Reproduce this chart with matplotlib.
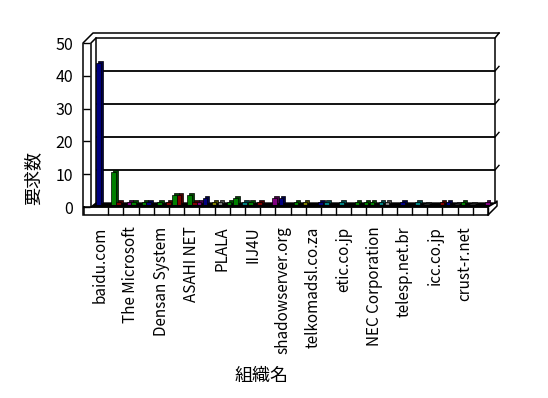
import numpy as np
import matplotlib
matplotlib.use("Agg")
import matplotlib.pyplot as plt
import matplotlib.transforms as mtransforms
from matplotlib.colors import to_rgb

plt.rcParams['font.family'] = ['Noto Sans CJK JP', 'DejaVu Sans']

# --- data ---
n_categories = 26
tick_labels = ['baidu.com', 'The Microsoft', 'Densan System', 'ASAHI NET', 'PLALA',
               'IIJ4U', 'shadowserver.org', 'telkomadsl.co.za', 'etic.co.jp',
               'NEC Corporation', 'telesp.net.br', 'icc.co.jp', 'crust-r.net']
y_ticks = [0, 10, 20, 30, 40, 50]

# three bars per category (left / middle / right), 0 = no bar
slot0_values = [43, 10, 1, 1, 1, 3, 3, 2, 1, 2, 1, 0, 2, 1, 0, 1, 1, 1, 1, 1, 1, 1, 0, 1, 1, 0]
slot0_colors = ['navy', 'green', 'purple', 'green', 'green', 'green', 'green', 'navy', 'gray',
                'green', 'green', 'white', 'navy', 'green', 'white', 'teal', 'teal', 'green',
                'green', 'gray', 'navy', 'teal', 'white', 'navy', 'green', 'white']
slot1_values = [0, 1, 1, 1, 0, 3, 1, 0, 0, 0, 0, 0, 0, 0, 0, 0, 0, 0, 0, 0, 0, 0, 0, 0, 0, 0]
slot1_colors = ['white', 'maroon', 'green', 'navy', 'white', 'maroon', 'maroon', 'white', 'white',
                'white', 'white', 'white', 'white', 'white', 'white', 'white', 'white', 'white',
                'white', 'white', 'white', 'white', 'white', 'white', 'white', 'white']
slot2_values = [0, 0, 0, 0, 1, 0, 1, 1, 1, 1, 1, 2, 0, 1, 1, 0, 0, 1, 1, 0, 0, 0.4, 1, 0.4, 0.4, 1]
slot2_colors = ['white', 'white', 'white', 'white', 'maroon', 'white', 'purple', 'olive', 'green',
                'teal', 'maroon', 'purple', 'white', 'olive', 'navy', 'white', 'white', 'green',
                'teal', 'white', 'white', 'white', 'maroon', 'white', 'white', 'purple']

W, H = 548, 398


def box(x0, y0, x1, y1):
    return [x0 / W, 1 - y1 / H, (x1 - x0) / W, (y1 - y0) / H]


fig = plt.figure(figsize=(W / 100, H / 100), dpi=100)
fig.patch.set_facecolor('white')

# back layer: wall outlines and black floor, in pixel coords
deco = fig.add_axes([0, 0, 1, 1], zorder=0)
deco.set_xlim(0, W)
deco.set_ylim(H, 0)
deco.axis('off')
deco.fill([91, 488, 495, 96], [207, 207, 203, 203], color='black')
deco.plot([83, 83, 93, 499], [215, 43, 33, 33], color='black', lw=1.1)
deco.plot([91, 91, 96, 495], [207, 43, 38, 38], color='black', lw=1.1)
deco.plot([96, 96], [38, 203], color='black', lw=1.1)
deco.plot([495, 495, 499], [203, 38, 33], color='black', lw=1.1)
deco.plot([488, 497, 497, 495], [215, 206, 201, 203], color='black', lw=1.1)

# back wall gridlines
back = fig.add_axes(box(96, 38, 495, 203), zorder=1)
back.set_xlim(0, 1)
back.set_ylim(0, 50)
back.patch.set_visible(False)
back.axis('off')
for v in y_ticks[1:-1]:
    back.axhline(v, color='black', lw=1.3)
    back.plot([1, 1.01], [v, v + 1.4], color='black', lw=1, clip_on=False)

# bars
ax = fig.add_axes(box(95.5, 40, 490.5, 205), zorder=2)
ax.set_xlim(0, n_categories)
ax.set_ylim(0, 50)
ax.patch.set_visible(False)
ax.axis('off')

side = mtransforms.offset_copy(ax.transData, fig=fig, x=2, y=2, units='dots')
idx = np.arange(n_categories)
slots = [(slot0_values, slot0_colors), (slot1_values, slot1_colors), (slot2_values, slot2_colors)]
for k, (vals, cols) in enumerate(slots):
    vals = np.array(vals, dtype=float)
    keep = vals > 0
    xs = idx[keep] + 0.05 + (k + 0.5) * 0.3
    hs = vals[keep]
    cs = [cols[i] for i in idx[keep]]
    dark = [tuple(c * 0.55 for c in to_rgb(c0)) for c0 in cs]
    ax.bar(xs, hs, width=0.3, color=dark, edgecolor='black', linewidth=0.5,
           transform=side, zorder=1)
    ax.bar(xs, hs, width=0.3, color=cs, edgecolor='black', linewidth=0.5, zorder=2)

# front layer: floor front face, y ticks and category labels
front = fig.add_axes(box(93, 43, 488, 207), zorder=3)
front.set_xlim(0, n_categories)
front.set_ylim(0, 50)
front.patch.set_visible(False)
for s in front.spines.values():
    s.set_visible(False)
front.spines['left'].set_position(('outward', 7.2))
front.set_yticks(y_ticks)
front.tick_params(axis='y', direction='in', length=5, width=1, pad=7, labelsize=11.5)
front.set_xticks(np.arange(1, n_categories + 1))
front.set_xticklabels([])
front.set_xticks(np.arange(0, n_categories, 2) + 0.5, minor=True)
front.set_xticklabels(tick_labels, minor=True, rotation=90)
front.tick_params(axis='x', which='major', direction='out', length=5.8, width=1)
front.tick_params(axis='x', which='minor', length=0, pad=14, labelsize=11)

deco2 = fig.add_axes([0, 0, 1, 1], zorder=4)
deco2.set_xlim(0, W)
deco2.set_ylim(H, 0)
deco2.axis('off')
deco2.plot([84, 488, 488, 84, 84], [207, 207, 215, 215, 207], color='black', lw=1.1)

fig.text(33 / W, 1 - 178 / H, '要求数', rotation=90, ha='center', va='center', fontsize=13)
fig.text(262 / W, 1 - 376 / H, '組織名', ha='center', va='center', fontsize=13)

fig.savefig('out.png', dpi=100)
